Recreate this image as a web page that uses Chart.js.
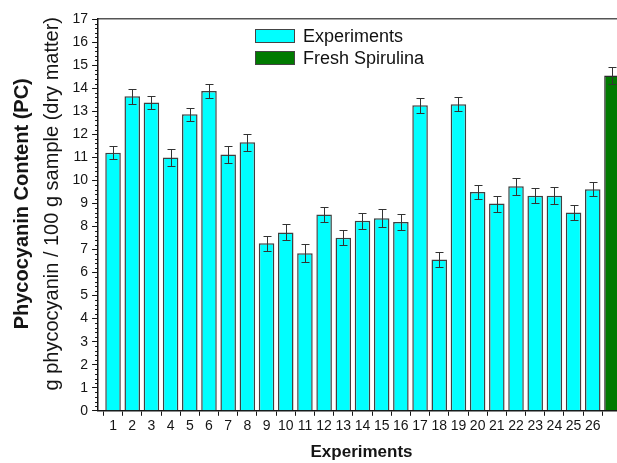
<!DOCTYPE html>
<html>
<head>
<meta charset="utf-8">
<script src="https://cdn.jsdelivr.net/npm/chart.js@4"></script>
<style>
html, body { margin: 0; padding: 0; overflow: hidden; background: #fff; }
#wrap { position: relative; width: 630px; height: 463px; }
#legend { position: absolute; left: 255px; top: 25px; font: 18px Arial, "Liberation Sans", sans-serif; color: #111; }
#legend div { height: 22px; display: flex; align-items: center; white-space: nowrap; }
#legend span { display: inline-block; width: 38px; height: 12px; border: 1px solid #444; margin-right: 8px; }
</style>
</head>
<body>
<div id="wrap"><canvas id="chart" width="630" height="463"></canvas><div id="legend"></div></div>
<script>
// experiment number on the x axis
experimentNo = [1, 2, 3, 4, 5, 6, 7, 8, 9, 10, 11, 12, 13, 14, 15, 16, 17, 18, 19, 20, 21, 22, 23, 24, 25, 26]
experiments = [11.20, 13.65, 13.38, 10.99, 12.87, 13.88, 11.12, 11.65, 7.27, 7.74, 6.84, 8.52, 7.51, 8.25, 8.35, 8.19, 13.26, 6.57, 13.30, 9.49, 8.99, 9.74, 9.33, 9.33, 8.60, 9.61]
experimentErrors = [0.29, 0.33, 0.29, 0.35, 0.29, 0.32, 0.36, 0.36, 0.32, 0.35, 0.38, 0.32, 0.33, 0.35, 0.39, 0.33, 0.32, 0.33, 0.30, 0.32, 0.35, 0.36, 0.32, 0.37, 0.33, 0.30]
freshNo = [27]
fresh = [14.55]
freshErrors = [0.36]
xTicks = [1, 2, 3, 4, 5, 6, 7, 8, 9, 10, 11, 12, 13, 14, 15, 16, 17, 18, 19, 20, 21, 22, 23, 24, 25, 26, 27]
xTickLabels = ['1', '2', '3', '4', '5', '6', '7', '8', '9', '10', '11', '12', '13', '14', '15', '16', '17', '18', '19', '20', '21', '22', '23', '24', '25', '26', '']

const FONT = "Arial, 'Liberation Sans', sans-serif";
const INK = '#151515';

// error bars + minor y ticks, drawn off the library scales
const errorBars = {
  id: 'errorBars',
  afterDatasetsDraw(chart) {
    const ctx = chart.ctx, y = chart.scales.y;
    ctx.save();
    ctx.strokeStyle = '#333';
    ctx.lineWidth = 1;
    chart.data.datasets.forEach((ds, di) => {
      chart.getDatasetMeta(di).data.forEach((bar, i) => {
        const v = ds.data[i].y, e = ds.errors[i];
        const x = Math.round(bar.x) + 0.5;
        const top = Math.round(y.getPixelForValue(v + e)) + 0.5;
        const bot = Math.round(y.getPixelForValue(v - e)) + 0.5;
        ctx.beginPath();
        ctx.moveTo(x, top); ctx.lineTo(x, bot);
        ctx.moveTo(x - 4, top); ctx.lineTo(x + 4, top);
        ctx.moveTo(x - 4, bot); ctx.lineTo(x + 4, bot);
        ctx.stroke();
      });
    });
    ctx.restore();
  },
  afterDraw(chart) {
    const ctx = chart.ctx, y = chart.scales.y, left = chart.chartArea.left;
    ctx.save();
    ctx.strokeStyle = INK;
    ctx.lineWidth = 1;
    ctx.beginPath();
    for (let k = 0; k <= 85; k++) {
      if (k % 5 === 0) continue;
      const py = Math.round(y.getPixelForValue(k / 5)) + 0.5;
      ctx.moveTo(left - 3, py); ctx.lineTo(left, py);
    }
    ctx.stroke();
    ctx.restore();
  }
};

config = {
  type: 'bar',
  data: {
    datasets: [
      {
        label: 'Experiments',
        data: experimentNo.map((x, i) => ({ x, y: experiments[i] })),
        errors: experimentErrors,
        backgroundColor: '#00ffff',
        borderColor: '#404040',
        borderWidth: 1.5,
      },
      {
        label: 'Fresh Spirulina',
        data: freshNo.map((x, i) => ({ x, y: fresh[i] })),
        errors: freshErrors,
        backgroundColor: '#007a00',
        borderColor: '#2a2a2a',
        borderWidth: 1.5,
      },
    ]
  },
  options: {
    responsive: false,
    animation: false,
    devicePixelRatio: 1,
    layout: { padding: { left: 4, top: 19, right: 5, bottom: 0 } },
    datasets: { bar: { grouped: false, barPercentage: 0.9, categoryPercentage: 0.9 } },
    plugins: { legend: { display: false }, tooltip: { enabled: false } },
    scales: {
      x: {
        type: 'linear',
        offset: false,
        min: 0.22,
        max: 27.68,
        afterBuildTicks: (axis) => { axis.ticks = xTicks.map(v => ({ value: v })); },
        ticks: {
          autoSkip: false, maxRotation: 0, padding: 2, color: INK,
          font: { family: FONT, size: 14 },
          callback: (v, i) => xTickLabels[i],
        },
        grid: { drawOnChartArea: false, tickLength: 5, color: INK },
        border: { color: INK, width: 1.5 },
        title: {
          display: true, text: 'Experiments', color: INK,
          font: { family: FONT, size: 17, weight: 'bold' },
          padding: { top: 6, bottom: 0 },
        },
      },
      xTop: {
        type: 'linear', position: 'top', offset: false, min: 0.22, max: 27.68,
        ticks: { display: false },
        grid: { display: false, drawTicks: false },
        border: { color: '#555', width: 1.5 },
      },
      y: {
        min: 0,
        max: 17,
        ticks: { stepSize: 1, padding: 4, color: INK, font: { family: FONT, size: 14 } },
        grid: { drawOnChartArea: false, tickLength: 6, color: INK },
        border: { color: INK, width: 1.5 },
        title: {
          display: true, text: '    g phycocyanin / 100 g sample (dry matter)', color: INK,
          font: { family: FONT, size: 20 },
          padding: { top: 6, bottom: 4.5 },
        },
      },
      yOuter: {
        position: 'left', weight: 1, min: 0, max: 17,
        ticks: { display: false },
        grid: { display: false, drawTicks: false },
        border: { display: false },
        title: {
          display: true, text: '    Phycocyanin Content (PC)', color: INK,
          font: { family: FONT, size: 20, weight: 'bold' },
          padding: { top: 6, bottom: 0 },
        },
      },
    },
  },
  plugins: [errorBars],
};

ctx = document.getElementById('chart');
chart = new Chart(ctx, config);

// legend overlay inside the plot frame
const legendEl = document.getElementById('legend');
chart.data.datasets.forEach(ds => {
  const row = document.createElement('div');
  const box = document.createElement('span');
  box.style.background = ds.backgroundColor;
  row.appendChild(box);
  row.appendChild(document.createTextNode(ds.label));
  legendEl.appendChild(row);
});
</script>
</body>
</html>
